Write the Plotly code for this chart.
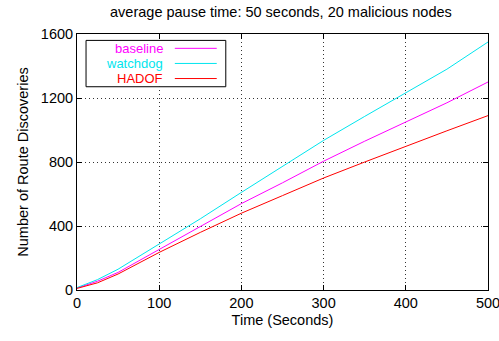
import plotly.graph_objects as go

time = [0, 25, 50, 100, 150, 200, 250, 300, 350, 400, 450, 500]
baseline = [12, 55, 110, 255, 400, 540, 670, 805, 930, 1050, 1170, 1300]
watchdog = [15, 65, 130, 285, 445, 610, 775, 935, 1085, 1230, 1380, 1550]
hadof = [10, 45, 100, 235, 360, 480, 590, 700, 800, 900, 995, 1090]

series = [("baseline", baseline, "#ff00ff"), ("watchdog", watchdog, "#00e5ee"), ("HADOF", hadof, "#ff0000")]

fig = go.Figure()
for name, ys, col in series:
    fig.add_trace(go.Scatter(x=time, y=ys, mode="lines", name=name,
                             line=dict(color=col, width=1), showlegend=False))

font = "Liberation Sans, Arial, sans-serif"
fs = 14.5
axis_common = dict(showline=True, linecolor="black", linewidth=1, mirror="ticks",
                   ticks="inside", ticklen=5, tickcolor="black",
                   showgrid=True, gridcolor="#333333", griddash="1px,3px", gridwidth=1,
                   zeroline=False, ticklabeloverflow="allow", automargin=False,
                   tickfont=dict(family=font, size=fs, color="black"))
fig.update_xaxes(range=[0, 500], tickvals=[0, 100, 200, 300, 400, 500],
                 title=dict(text="Time (Seconds)", font=dict(family=font, size=fs, color="black"), standoff=4),
                 **axis_common)
fig.update_yaxes(range=[0, 1600], tickvals=[0, 400, 800, 1200, 1600],
                 title=dict(text="Number of Route Discoveries", font=dict(family=font, size=fs, color="black"), standoff=8),
                 **axis_common)

# custom legend (text right-aligned, sample line on the right)
shapes = [dict(type="rect", xref="paper", yref="paper", x0=0.022, x1=0.362, y0=0.794, y1=0.975,
               line=dict(color="black", width=1), fillcolor="white", layer="above")]
annotations = []
for i, (name, ys, col) in enumerate(series):
    yy = 0.944 - i * 0.059
    annotations.append(dict(text=name, xref="paper", yref="paper", x=0.212, y=yy, xanchor="right",
                            yanchor="middle", showarrow=False, borderpad=0,
                            font=dict(family=font, size=13, color=col)))
    shapes.append(dict(type="line", xref="paper", yref="paper", x0=0.238, x1=0.34, y0=yy, y1=yy,
                       line=dict(color=col, width=1), layer="above"))

fig.update_layout(
    width=499, height=341,
    margin=dict(l=77, r=11, t=34, b=51),
    paper_bgcolor="white", plot_bgcolor="white",
    title=dict(text="average pause time: 50 seconds, 20 malicious nodes", x=0.563, xanchor="center",
               y=0.965, yanchor="middle", font=dict(family=font, size=fs, color="black")),
    shapes=shapes, annotations=annotations,
)
fig.write_html("out.html")
